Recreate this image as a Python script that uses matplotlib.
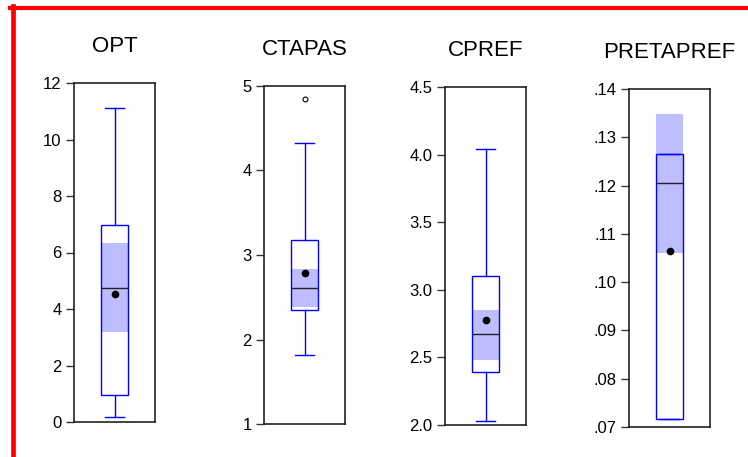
"""Box plots of OPT, CTAPAS, CPREF and PRETAPREF (EViews style)."""
import matplotlib
matplotlib.use("Agg")
import matplotlib.pyplot as plt
from matplotlib.lines import Line2D
from matplotlib.ticker import FuncFormatter

plt.rcParams["font.family"] = ["Liberation Sans", "DejaVu Sans"]

names = ["OPT", "CTAPAS", "CPREF", "PRETAPREF"]
whislo = [0.17, 1.82, 2.03, 0.0716]
q1 = [0.96, 2.35, 2.39, 0.0716]
med = [4.75, 2.61, 2.67, 0.1205]
q3 = [6.97, 3.175, 3.10, 0.1266]
whishi = [11.1, 4.325, 4.04, 0.1266]
means = [4.52, 2.785, 2.78, 0.1065]
ci_lo = [3.18, 2.39, 2.48, 0.1061]
ci_hi = [6.33, 2.83, 2.85, 0.1349]
outliers = [[], [4.85], [], []]

ylims = [(0, 12), (1, 5), (2.0, 4.5), (0.07, 0.14)]
yticks = [
    [0, 2, 4, 6, 8, 10, 12],
    [1, 2, 3, 4, 5],
    [2.0, 2.5, 3.0, 3.5, 4.0, 4.5],
    [0.07, 0.08, 0.09, 0.10, 0.11, 0.12, 0.13, 0.14],
]
fmts = [
    lambda v, p: f"{v:.0f}",
    lambda v, p: f"{v:.0f}",
    lambda v, p: f"{v:.1f}",
    lambda v, p: f"{v:.2f}".lstrip("0"),
]

# axes placement in pixels: left, top, bottom
W, H = 748, 457
boxes_px = [(74, 83, 422), (264, 86, 424), (445, 87, 425), (629, 89, 427)]

fig = plt.figure(figsize=(W / 100, H / 100), dpi=100)

BLUE = "#0000FF"
SHADE = "#BDBDFF"
BW = 0.345

for i, name in enumerate(names):
    left, top, bot = boxes_px[i]
    ax = fig.add_axes([left / W, (H - bot) / H, 81 / W, (bot - top) / H])

    # median confidence band
    ax.bar([1], [ci_hi[i] - ci_lo[i]], bottom=[ci_lo[i]], width=BW,
           color=SHADE, linewidth=0, zorder=2)

    stats = [{
        "whislo": whislo[i], "q1": q1[i], "med": med[i], "q3": q3[i],
        "whishi": whishi[i], "mean": means[i], "fliers": outliers[i],
    }]
    ax.bxp(stats, positions=[1], widths=BW, showmeans=True,
           patch_artist=True, capwidths=BW * 0.65,
           boxprops=dict(facecolor="none", edgecolor=BLUE, linewidth=1.0),
           whiskerprops=dict(color=BLUE, linewidth=1.0),
           capprops=dict(color=BLUE, linewidth=1.0),
           medianprops=dict(color="#222222", linewidth=1.0),
           meanprops=dict(marker="o", markerfacecolor="black",
                          markeredgecolor="black", markersize=4.5),
           flierprops=dict(marker="o", markerfacecolor="white",
                           markeredgecolor="black", markersize=3.5,
                           markeredgewidth=0.8),
           manage_ticks=False, zorder=3)

    ax.set_xlim(0.5, 1.5)
    ax.set_ylim(*ylims[i])
    ax.set_yticks(yticks[i])
    ax.yaxis.set_major_formatter(FuncFormatter(fmts[i]))
    ax.set_xticks([])
    ax.tick_params(axis="y", direction="out", length=6, width=1.0,
                   color="#333333", labelsize=12, pad=3)
    for sp in ax.spines.values():
        sp.set_linewidth(1.2)
        sp.set_color("#222222")
    ax.set_title(name, fontsize=16, pad=22)

# red frame on top and left
fig.add_artist(Line2D([10 / W, 1], [1 - 8 / H, 1 - 8 / H], color="#FF0000",
                      linewidth=3, transform=fig.transFigure))
fig.add_artist(Line2D([12.5 / W, 12.5 / W], [0, 1 - 6 / H], color="#FF0000",
                      linewidth=3.4, transform=fig.transFigure))

plt.savefig("out.png", dpi=100, facecolor="white")
print("Saved: out.png")
